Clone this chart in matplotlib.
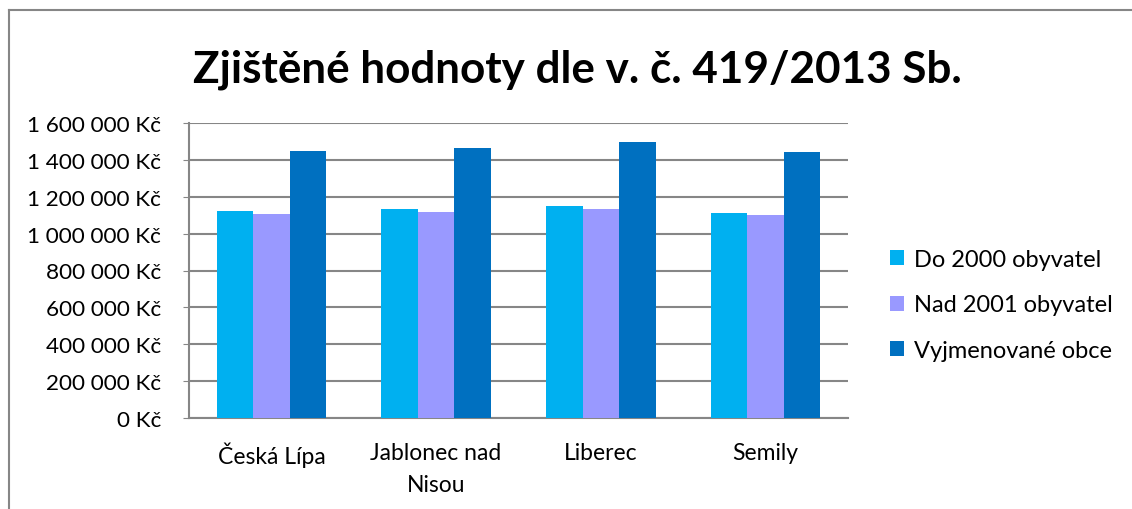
import numpy as np
import matplotlib.pyplot as plt
from matplotlib.lines import Line2D
from matplotlib.patches import Patch
from matplotlib.ticker import FuncFormatter

plt.rcParams['font.family'] = ['Lato', 'DejaVu Sans']

# Data
okresy = ["Česká Lípa", "Jablonec nad\nNisou", "Liberec", "Semily"]
do_2000 = [1122000, 1131000, 1149000, 1111000]
nad_2001 = [1106000, 1117000, 1133000, 1102000]
vyjmenovane = [1448000, 1462000, 1495000, 1441000]
series_names = ["Do 2000 obyvatel", "Nad 2001 obyvatel", "Vyjmenované obce"]
colors = ["#00B0F0", "#9999FF", "#0070C0"]

fig = plt.figure(figsize=(11.32, 5.10), dpi=100)
ax = fig.add_axes([189 / 1132, 1 - 419 / 510, (848 - 189) / 1132, (419 - 124) / 510])

x = np.arange(len(okresy))
w = 0.222
for i, (vals, name, c) in enumerate(zip([do_2000, nad_2001, vyjmenovane], series_names, colors)):
    ax.bar(x + (i - 1) * w, vals, width=w, color=c, label=name, zorder=3)

ax.set_xlim(-0.5, len(okresy) - 0.5)
ax.set_ylim(0, 1600000)
ax.set_yticks(np.arange(0, 1600001, 200000))
ax.yaxis.set_major_formatter(FuncFormatter(lambda v, p: f"{int(v):,} Kč".replace(",", " ")))
ax.set_xticks(x)
ax.set_xticklabels(okresy, fontsize=16.5, linespacing=1.65)
ax.tick_params(axis='y', labelsize=16.2, length=4, color="#868686", pad=16)
ax.tick_params(axis='x', length=0, pad=17)
ax.yaxis.grid(True, color="#868686", linewidth=1.5, zorder=0)
for s in ["top", "right"]:
    ax.spines[s].set_visible(False)
for s in ["left", "bottom"]:
    ax.spines[s].set_color("#868686")
    ax.spines[s].set_linewidth(1.5)

fig.text(577 / 1132, 1 - 70 / 510, "Zjištěné hodnoty dle v. č. 419/2013 Sb.", ha="center", va="center",
         fontsize=31.7, fontweight="bold")

handles = [Patch(facecolor=c, edgecolor="none") for c in colors]
fig.legend(handles, series_names, loc="center left", bbox_to_anchor=(869 / 1132, 1 - 306 / 510),
           frameon=False, fontsize=17, handlelength=0.6, handleheight=0.6, handletextpad=0.4,
           labelspacing=1.05)

# outer chart frame (left and top edges visible)
fig.add_artist(Line2D([9 / 1132, 9 / 1132], [0, 1 - 11 / 510], color="#868686", linewidth=1.5))
fig.add_artist(Line2D([9 / 1132, 1], [1 - 11 / 510, 1 - 11 / 510], color="#868686", linewidth=1.5))

fig.savefig("out.png", dpi=100, facecolor="white")
